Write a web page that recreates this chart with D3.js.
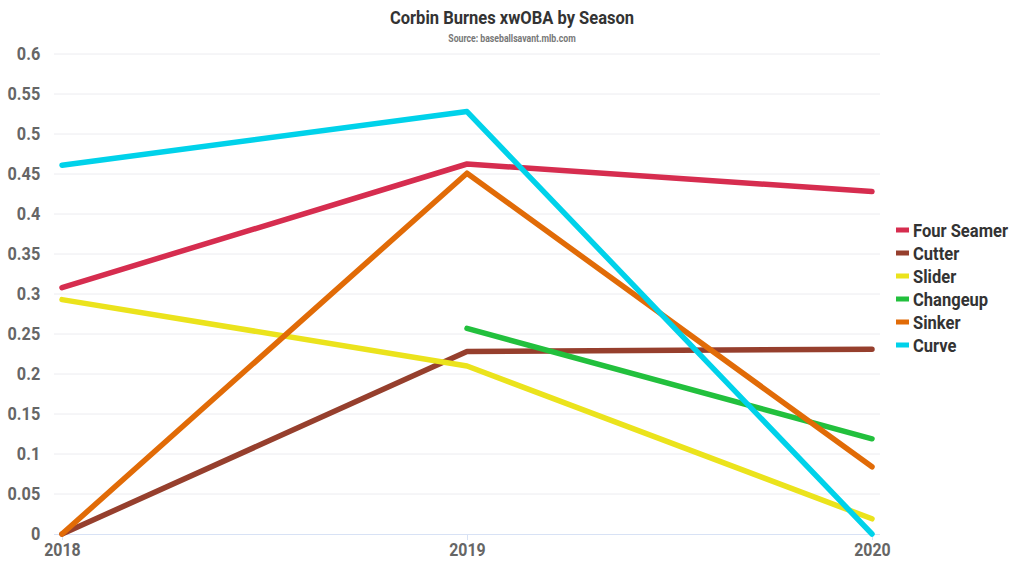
<!DOCTYPE html>
<html><head><meta charset="utf-8">
<script src="https://cdn.jsdelivr.net/npm/d3@7"></script>
<style>body{margin:0;background:#fff}svg{display:block;font-family:Roboto,sans-serif;font-weight:bold}</style>
</head><body><svg id="c" width="1024" height="576"></svg>
<script>
const seasons = [2018, 2019, 2020];
const pitches = ["Four Seamer","Cutter","Slider","Changeup","Sinker","Curve"];
const colors = ["#d62d4f","#963f2d","#ebe31c","#22c03d","#e16b07","#00d2ea"];
const fourSeamer = [0.308, 0.4625, 0.428];
const cutter = [0, 0.228, 0.231];
const slider = [0.293, 0.21, 0.019];
const changeup = [null, 0.257, 0.119];
const sinker = [0, 0.451, 0.084];
const curve = [0.461, 0.528, 0];
const yTicks = [0,0.05,0.1,0.15,0.2,0.25,0.3,0.35,0.4,0.45,0.5,0.55,0.6];
const seriesVals = [fourSeamer, cutter, slider, changeup, sinker, curve];

const svg = d3.select("#c");
const x = d3.scalePoint().domain(seasons).range([62, 872]);
const y = d3.scaleLinear().domain([0,0.6]).range([534, 54]);

svg.append("text").attr("x",512).attr("y",24).attr("text-anchor","middle")
  .attr("font-size",19).attr("fill","#333").attr("transform","translate(512,0) scale(0.87,1) translate(-512,0)")
  .text("Corbin Burnes xwOBA by Season");
svg.append("text").attr("x",512).attr("y",42).attr("text-anchor","middle")
  .attr("font-size",10).attr("fill","#777").attr("transform","translate(512,0) scale(0.87,1) translate(-512,0)")
  .text("Source: baseballsavant.mlb.com");

// grid
svg.append("g").selectAll("line").data(yTicks.filter(d=>d>0)).join("line")
  .attr("x1",54).attr("x2",880).attr("y1",d=>y(d)).attr("y2",d=>y(d))
  .attr("stroke","#ececf0").attr("stroke-width",1);

// y axis
const ya = svg.append("g").attr("transform","translate(54,0)")
  .call(d3.axisLeft(y).tickValues(yTicks).tickFormat(d=>String(+d.toFixed(2))).tickSize(0).tickPadding(12));
ya.select(".domain").remove();
ya.selectAll("text").attr("font-size",18.5).attr("fill","#666").attr("font-family","Roboto").attr("font-weight","bold")
  .attr("transform","translate(-12,0) scale(0.88,1) translate(10,0)");

// x axis
const xa = svg.append("g").attr("transform","translate(0,534)")
  .call(d3.axisBottom(x).tickSize(6).tickPadding(3));
xa.select(".domain").attr("d","M54,0.5H880").attr("stroke","#d8e2f5");
xa.selectAll(".tick line").attr("stroke","#d8e2f5");
xa.selectAll("text").attr("font-size",18.5).attr("fill","#666").attr("font-family","Roboto").attr("font-weight","bold")
  .attr("transform","scale(0.86,1)");

// lines
const line = d3.line().defined(d=>d.v!==null).x(d=>x(d.s)).y(d=>y(d.v));
svg.append("g").selectAll("path").data(seriesVals).join("path")
  .attr("d",vals=>line(vals.map((v,i)=>({s:seasons[i],v}))))
  .attr("fill","none").attr("stroke",(d,i)=>colors[i]).attr("stroke-width",5.5)
  .attr("stroke-linecap","round").attr("stroke-linejoin","round");

// legend
const lg = svg.append("g").selectAll("g").data(pitches).join("g")
  .attr("transform",(d,i)=>`translate(896,${230+i*23})`);
lg.append("rect").attr("x",0).attr("y",-2.5).attr("width",13).attr("height",5).attr("fill",(d,i)=>colors[i]);
lg.append("text").attr("x",17).attr("y",6.5).attr("font-size",18).attr("fill","#333")
  .attr("transform","translate(17,0) scale(0.92,1) translate(-17,0)").text(d=>d);
</script></body></html>
